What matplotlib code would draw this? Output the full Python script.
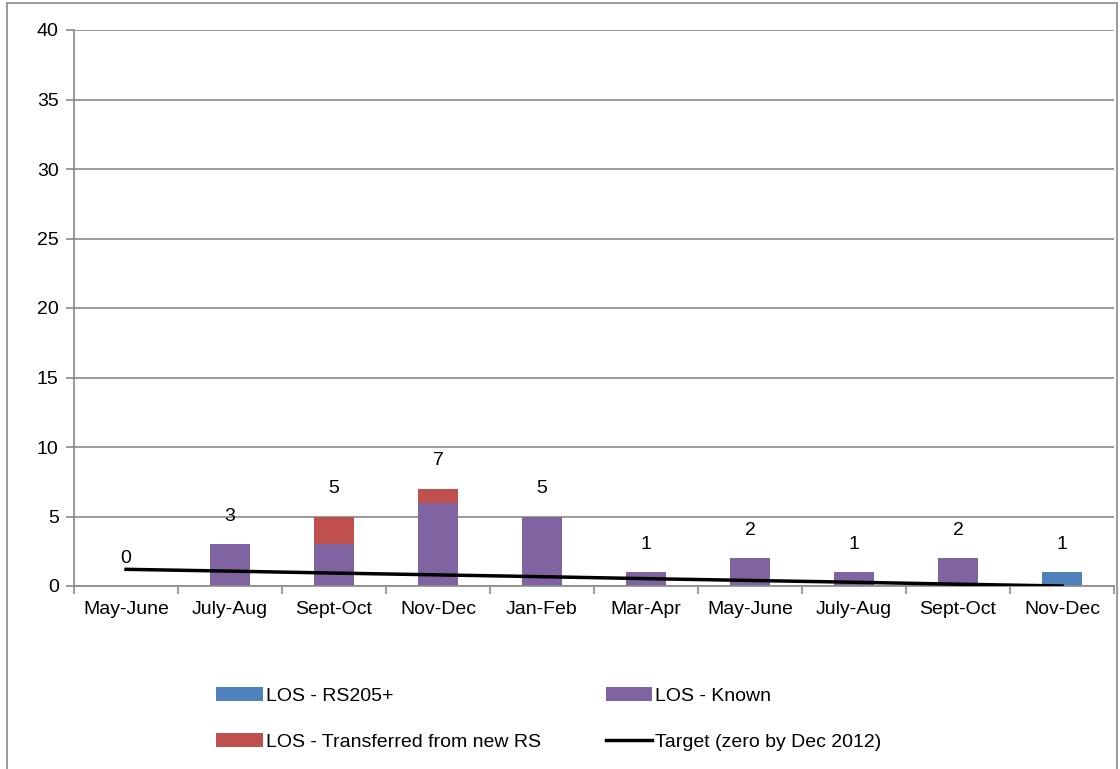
import numpy as np
import matplotlib.pyplot as plt
from matplotlib.patches import Rectangle

plt.rcParams['font.family'] = ['Liberation Sans', 'DejaVu Sans']

# data
periods = ['May-June', 'July-Aug', 'Sept-Oct', 'Nov-Dec', 'Jan-Feb',
           'Mar-Apr', 'May-June', 'July-Aug', 'Sept-Oct', 'Nov-Dec']
los_rs205 = [0, 0, 0, 0, 0, 0, 0, 0, 0, 1]
los_known = [0, 3, 3, 6, 5, 1, 2, 1, 2, 0]
los_transferred = [0, 0, 2, 1, 0, 0, 0, 0, 0, 0]
target = [1.2, 1.07, 0.93, 0.8, 0.67, 0.53, 0.4, 0.27, 0.13, 0.0]
yticks = [0, 5, 10, 15, 20, 25, 30, 35, 40]

c_blue = '#4F81BD'
c_purple = '#8064A2'
c_red = '#C0504D'
c_grid = '#898989'
fs = 14

fig = plt.figure(figsize=(11.2, 7.69), dpi=100)
ax = fig.add_axes([74 / 1120, 1 - 586 / 769, 1040 / 1120, 556 / 769])

# outer chart frame
fig.patches.append(Rectangle((7 / 1120, -0.05), 1110 / 1120, 1.05 - 3 / 769,
                             transform=fig.transFigure, fill=False,
                             edgecolor=c_grid, lw=1.2))

x = np.arange(len(periods))
w = 0.39
b1 = ax.bar(x, los_rs205, w, color=c_blue, label='LOS - RS205+', zorder=2)
b2 = ax.bar(x, los_known, w, bottom=los_rs205, color=c_purple,
            label='LOS - Known', zorder=2)
bottom2 = np.array(los_rs205) + np.array(los_known)
b3 = ax.bar(x, los_transferred, w, bottom=bottom2, color=c_red,
            label='LOS - Transferred from new RS', zorder=2)
ln, = ax.plot(x, target, color='black', lw=2.5,
              label='Target (zero by Dec 2012)', zorder=3)

totals = bottom2 + np.array(los_transferred)
for xi, t in zip(x, totals):
    ax.annotate('%d' % t, xy=(xi, t), xytext=(0, 20), textcoords='offset points',
                ha='center', va='center', fontsize=fs)

ax.set_ylim(0, 40)
ax.set_xlim(-0.5, len(periods) - 0.5)
ax.set_yticks(yticks)
ax.set_xticks(x)
ax.set_xticklabels(periods)
ax.set_xticks(np.arange(-0.5, len(periods)), minor=True)
ax.tick_params(axis='x', which='major', length=0, pad=11, labelsize=fs)
ax.tick_params(axis='x', which='minor', length=6, color=c_grid, width=1.2)
ax.tick_params(axis='y', length=6, color=c_grid, width=1.2, pad=5, labelsize=fs)
ax.grid(axis='y', color=c_grid, lw=1.2, zorder=0)
ax.set_axisbelow(True)
for s in ['top', 'right']:
    ax.spines[s].set_visible(False)
for s in ['left', 'bottom']:
    ax.spines[s].set_color(c_grid)
    ax.spines[s].set_linewidth(1.2)

fig.legend(handles=[b1, b3, b2, ln], ncol=2, frameon=False,
           loc='center', bbox_to_anchor=(0.490, 1 - 719 / 769),
           fontsize=fs, handlelength=2.4, handleheight=0.75,
           handletextpad=0.15, labelspacing=1.45, columnspacing=3.35)

fig.savefig('out.png', dpi=100)
